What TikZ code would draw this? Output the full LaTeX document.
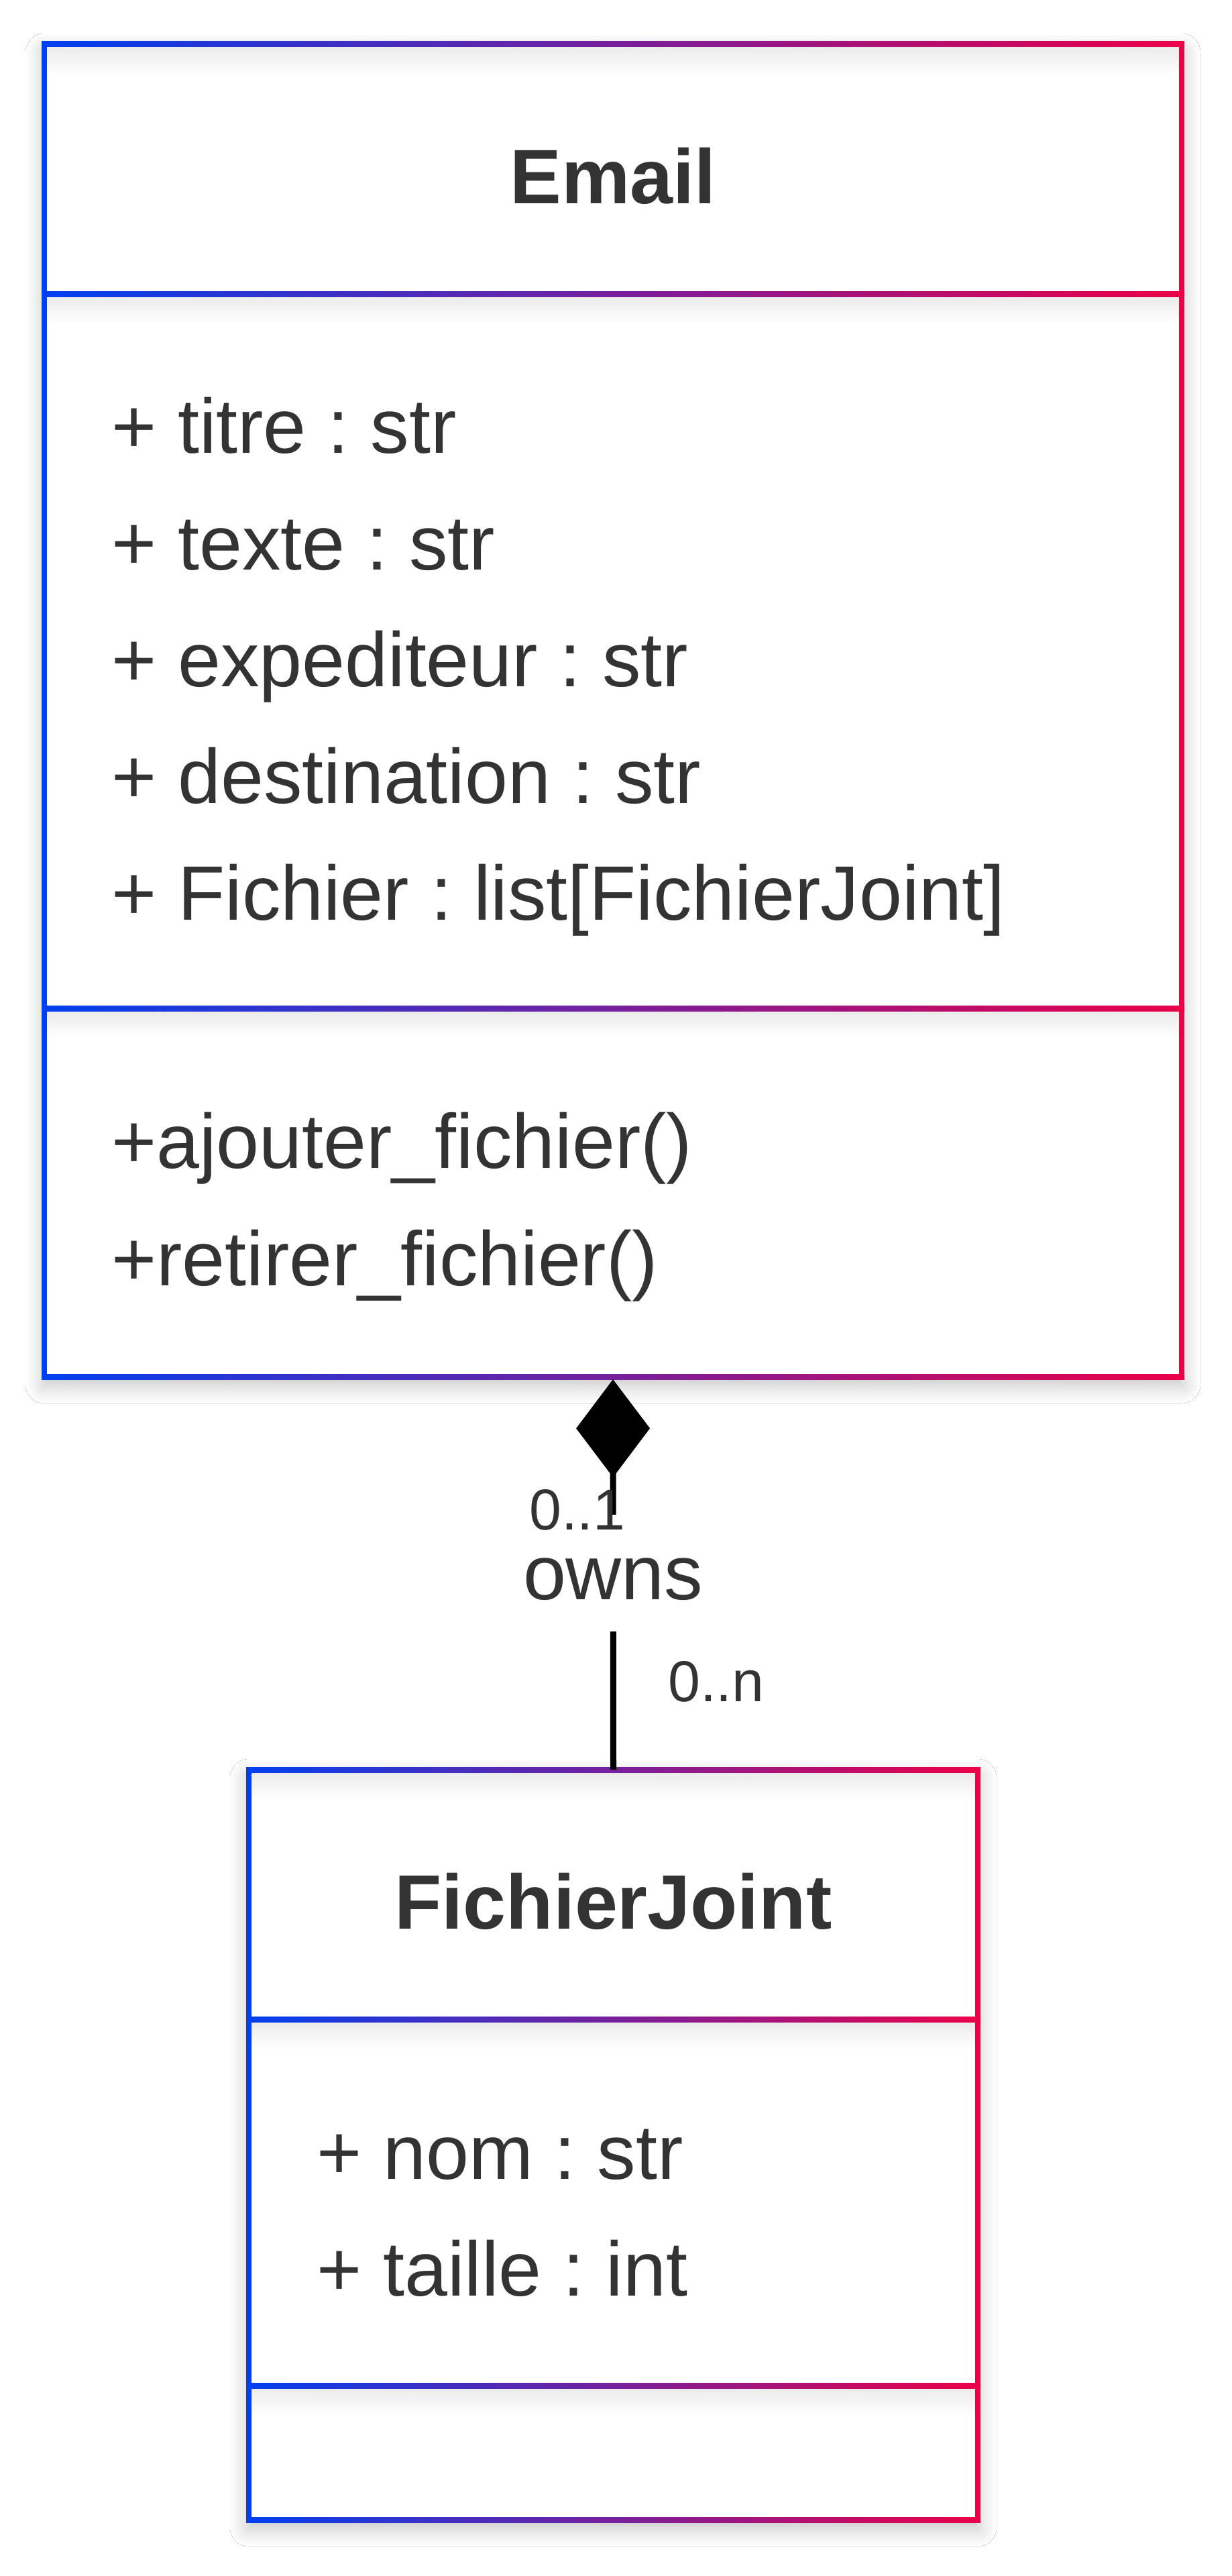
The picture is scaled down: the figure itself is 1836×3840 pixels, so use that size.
\documentclass[tikz,border=0pt]{standalone}
\usepackage{fontspec}
\setmainfont{Liberation Sans}
\usetikzlibrary{arrows.meta,shadows.blur}
\definecolor{umlblue}{RGB}{0,64,240}
\definecolor{umlred}{RGB}{236,0,72}
\definecolor{txt}{RGB}{51,51,51}
\frenchspacing
\begin{document}
\frenchspacing
\begin{tikzpicture}[x=1pt,y=-1pt,
  classbox/.style={rectangle, inner sep=0pt, fill=white,
    blur shadow={shadow xshift=0pt, shadow yshift=-12pt, shadow blur radius=28pt, shadow opacity=25, shadow blur steps=12}},
  classtitle/.style={anchor=base, inner sep=0pt, text=txt, font=\fontsize{115}{138}\selectfont\bfseries},
  member/.style={anchor=base west, inner sep=0pt, text=txt, font=\fontsize{115}{138}\selectfont},
  mult/.style={anchor=base west, inner sep=0pt, text=txt, font=\fontsize{86}{100}\selectfont},
  ownslabel/.style={fill=white, inner sep=0pt, minimum height=174pt, minimum width=290pt,
    text height=78pt, text depth=0pt, text=txt, font=\fontsize{115}{138}\selectfont},
  gradline/.style={left color=umlblue, right color=umlred},
  innershade/.style={top color=black!8, bottom color=white},
  conn/.style={line width=9pt, draw=black}
]
\useasboundingbox (0,0) rectangle (1836,3840);
\fill[white] (0,0) rectangle (1836,3840);

% ---- class boxes ----
\node[classbox, minimum width=1696pt, minimum height=1986pt] (email) at (914,1059) {};
\node[classbox, minimum width=1087pt, minimum height=1118pt] (fj) at (914.5,3197) {};

% inner shades
\foreach \yt/\xa/\xb in {66/66/1762, 438/66/1762, 1503/66/1762, 2638/371/1458, 3010/371/1458, 3556/371/1458}{
  \shade[innershade] (\xa+4,\yt+4) rectangle (\xb-4,\yt+44);
}

% Email borders
\foreach \yl in {66,438,1503,2052}{
  \shade[gradline] (62,\yl-4) rectangle (1766,\yl+4);
}
\fill[umlblue] (62,62) rectangle (70,2056);
\fill[umlred] (1758,62) rectangle (1766,2056);

% FichierJoint borders
\foreach \yl in {2638,3010,3556,3756}{
  \shade[gradline] (367,\yl-4) rectangle (1462,\yl+4);
}
\fill[umlblue] (367,2634) rectangle (375,3760);
\fill[umlred] (1454,2634) rectangle (1462,3760);

% ---- texts ----
\node[classtitle] (emailtitle) at (914,303) {Email};
\node[member] (a1) at (166,675) {+ titre : str};
\node[member] (a2) at (166,849) {+ texte : str};
\node[member] (a3) at (166,1023) {+ expediteur : str};
\node[member] (a4) at (166,1197) {+ destination : str};
\node[member] (a5) at (166,1371) {+ Fichier : list[FichierJoint]};
\node[member] (m1) at (166,1741) {+ajouter\_fichier()};
\node[member] (m2) at (166,1916) {+retirer\_fichier()};

\node[classtitle] (fjtitle) at (914.5,2875) {FichierJoint};
\node[member] (b1) at (472,3248) {+ nom : str};
\node[member] (b2) at (472,3422) {+ taille : int};

% ---- connector ----
\draw[conn, {Diamond[length=146pt, width=110pt]}-, shorten <=4pt]
  (email.south) -- node[ownslabel, midway] (owns) {owns} (fj.north);
\node[mult] (m01) at (789,2280) {0..1};
\node[mult] (m0n) at (996,2536) {0..n};
\end{tikzpicture}
\end{document}
